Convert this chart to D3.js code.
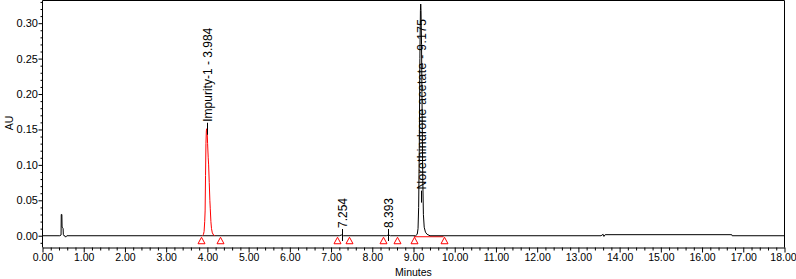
<!DOCTYPE html>
<html><head><meta charset="utf-8">
<script src="https://cdn.jsdelivr.net/npm/d3@7"></script>
<style>
html,body{margin:0;padding:0;background:#fff;}
svg{display:block;}
text{font-family:Arial,"Liberation Sans",sans-serif;}
</style></head>
<body>
<svg id="c" width="796" height="279"></svg>
<script>
// ---- data ----
const xTicks = [0,1,2,3,4,5,6,7,8,9,10,11,12,13,14,15,16,17,18];
const yTicks = [0.00,0.05,0.10,0.15,0.20,0.25,0.30];
// chromatogram trace: [minutes, AU]
const traceTime = [0,0.42,0.45,0.455,0.47,0.475,0.48,0.50,0.505,0.52,0.54,0.56,0.59,
  3.88,3.905,3.92,3.935,3.945,3.955,3.965,3.975,3.984,3.995,4.005,4.02,4.03,4.045,4.06,4.07,4.085,4.10,4.12,4.15,4.18,
  7.20,7.254,7.30,8.34,8.393,8.44,
  9.05,9.09,9.11,9.125,9.14,9.155,9.168,9.175,9.182,9.195,9.21,9.225,9.24,9.26,9.29,9.33,9.40,
  13.55,13.60,13.62,13.65,16.72,16.73,18];
const traceAU = [0,0,0.001,0.030,0.030,0.012,0.012,0.010,0.002,0,0,-0.002,0,
  0,0.002,0.006,0.020,0.035,0.085,0.13,0.148,0.151,0.146,0.13,0.11,0.10,0.075,0.05,0.038,0.02,0.010,0.004,0.001,0,
  0,0.001,0,0,0.001,0,
  0,0.002,0.010,0.040,0.12,0.25,0.318,0.327,0.318,0.27,0.17,0.08,0.03,0.012,0.005,0.002,0,
  0,0.002,-0.001,0.0015,0.0015,0,0];
// integrated peaks
const peakLabels = ["Impurity-1 - 3.984","7.254","8.393","Norethindrone acetate - 9.175"];
const peakRT = [3.984,7.254,8.393,9.175];
const peakApex = [0.151,0.001,0.001,0.327];
const peakStart = [3.85,7.14,8.25,9.01];
const peakEnd = [4.31,7.44,8.59,9.73];

// ---- layout ----
const svg = d3.select("#c");
const L = 42.5, R = 784.5, T = 0.5, B = 247.5;
const x = d3.scaleLinear().domain([0,18]).range([L,R]);
const y = d3.scaleLinear().domain([-0.0166,0.332]).range([B,T]);
const txt = "#000";

// frame
svg.append("path").attr("d",`M${L},${B}V${T}H${R}V${B}`).attr("fill","none").attr("stroke","#000");

// x axis
const xa = svg.append("g").attr("transform",`translate(0,${B})`)
  .call(d3.axisBottom(x).tickValues(xTicks).tickFormat(d3.format(".2f")).tickSize(5).tickSizeOuter(0));
xa.select(".domain").attr("stroke","#000");
xa.selectAll("text").attr("font-size","10.5px").attr("fill",txt).attr("dy","0.55em")
  .attr("x",d=>d===18?-1.5:0);
const xMinor = d3.range(0,90).map(i=>i*0.2).filter(v=>Math.abs(v-Math.round(v))>0.01);
svg.append("g").attr("transform",`translate(0,${B})`)
  .call(d3.axisBottom(x).tickValues(xMinor).tickFormat("").tickSize(3).tickSizeOuter(0))
  .select(".domain").remove();

// y axis
const ya = svg.append("g").attr("transform",`translate(${L},0)`)
  .call(d3.axisLeft(y).tickValues(yTicks).tickFormat(d3.format(".2f")).tickSize(4).tickSizeOuter(0));
ya.select(".domain").remove();
ya.selectAll("text").attr("font-size","11px").attr("fill",txt).attr("x",-4.5);
const yMinor = d3.range(-1,34).map(i=>i*0.01).filter(v=>Math.abs(v*20-Math.round(v*20))>0.01);
svg.append("g").attr("transform",`translate(${L},0)`)
  .call(d3.axisLeft(y).tickValues(yMinor).tickFormat("").tickSize(2).tickSizeOuter(0))
  .select(".domain").remove();

// axis titles
svg.append("text").attr("x",(L+R)/2).attr("y",276).attr("text-anchor","middle")
  .attr("font-size","10.5px").attr("fill",txt).text("Minutes");
svg.append("text").attr("transform",`translate(13,123) rotate(-90)`).attr("text-anchor","middle")
  .attr("font-size","10.5px").attr("fill",txt).text("AU");

// trace
const pts = traceTime.map((t,i)=>[t,traceAU[i]]);
const redLo = 3.88, redHi = 4.18;
const line = d3.line().x(d=>x(d[0])).y(d=>y(d[1]));
const plot = svg.append("g");
// red integration baseline of main peak
plot.append("line").attr("x1",x(peakStart[3])).attr("x2",x(peakEnd[3]))
  .attr("y1",y(0)+1).attr("y2",y(0)+1).attr("stroke","#f00");
plot.append("path").datum(pts.filter(d=>d[0]<=redLo||d[0]>=redHi)).attr("d",line)
  .attr("fill","none").attr("stroke","#000").attr("stroke-width",1);
// impurity peak in red
plot.append("path").datum(pts.filter(d=>d[0]>=redLo&&d[0]<=redHi)).attr("d",line)
  .attr("fill","none").attr("stroke","#f00").attr("stroke-width",1);

// peak start/end markers
const marks = peakStart.concat(peakEnd);
plot.selectAll("path.m").data(marks).enter().append("path").attr("class","m")
  .attr("d",d=>{const cx=Math.round(x(d))+0.5, ty=y(0)+1.5; return `M${cx},${ty}L${cx+3.5},${ty+6.5}L${cx-3.5},${ty+6.5}Z`;})
  .attr("fill","none").attr("stroke","#f00");

// peak labels
peakLabels.forEach((lab,i)=>{
  const px = Math.round(x(peakRT[i]))+0.5;
  const ay = y(peakApex[i]);
  const g = svg.append("g");
  const t = g.append("text").attr("font-size","12px").attr("fill",txt).text(lab);
  let len = t.node().getComputedTextLength();
  let bottom = ay - 7;
  if (bottom - len < 18) {
    len = len * 1.07;
    t.attr("textLength",len).attr("lengthAdjust","spacing");
    bottom = 19 + len;
  }
  t.attr("transform",`translate(${px},${bottom}) rotate(-90)`).attr("dy","0.36em");
  g.append("line").attr("x1",px).attr("x2",px).attr("y1",bottom+1).attr("y2",bottom+13).attr("stroke","#000");
});
</script>
</body></html>
